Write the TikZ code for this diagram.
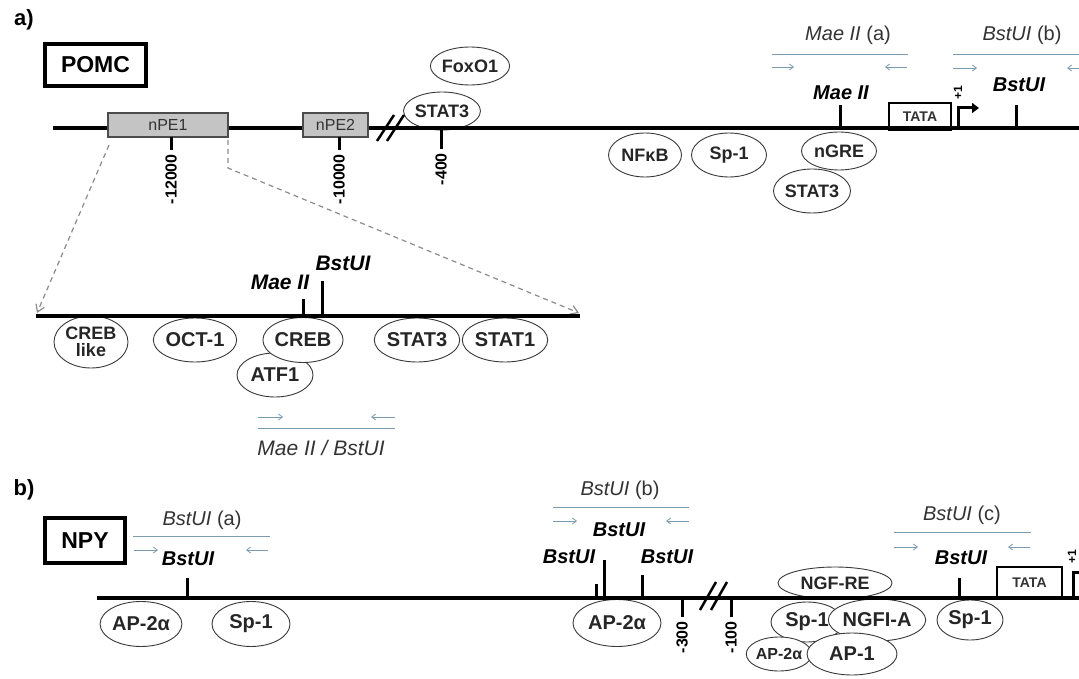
\documentclass[tikz,border=0pt]{standalone}
\usepackage{fontspec}
\setmainfont{Liberation Sans}
\usetikzlibrary{shapes.geometric,arrows.meta}
\definecolor{primercol}{HTML}{7A9AB0}
\definecolor{tfline}{HTML}{3A3A3A}
\definecolor{peboxfill}{HTML}{C4C4C4}
\definecolor{txtgray}{HTML}{333333}
\newcommand\fsz[1]{\fontsize{#1}{#1}\selectfont}
\begin{document}
\begin{tikzpicture}[x=1pt,y=-1pt,
  tf/.style={ellipse,draw=tfline,line width=0.9pt,fill=white,inner sep=0pt,
     minimum width=74pt,minimum height=42pt,font=\fsz{18}\bfseries,text=black!85},
  tfb/.style={tf,font=\fsz{20}\bfseries},
  gene/.style={line width=3.5pt,black},
  tickm/.style={line width=3pt,black},
  ticklab/.style={rotate=90,anchor=east,font=\fsz{16}\bfseries,inner sep=1pt},
  namebox/.style={draw,line width=3.5pt,inner sep=0pt,font=\fsz{23}\bfseries},
  pebox/.style={draw=black!70,line width=1.2pt,fill=peboxfill,inner sep=0pt,
     minimum height=24pt,font=\fsz{16},text=black!80},
  tata/.style={draw,line width=2.5pt,inner sep=0pt,font=\fsz{14}\bfseries,text=black!80},
  enz/.style={font=\fsz{20}\bfseries\itshape,inner sep=0pt},
  primlab/.style={font=\fsz{20},text=txtgray,inner sep=0pt},
  primer/.style={draw=primercol,line width=0.8pt},
  parr/.style={primer,-{Straight Barb[length=4pt,width=6pt]}},
  zoomline/.style={draw=black!45,line width=1.2pt,dash pattern=on 5pt off 4pt,
     -{Straight Barb[length=7pt,width=9pt]}},
  panel/.style={font=\fsz{22}\bfseries,inner sep=0pt},
  brk/.style={line width=2.5pt,black},
  tss/.style={line width=3pt,-{Triangle[length=7pt,width=10pt]}},
  plusone/.style={rotate=90,font=\fsz{12}\bfseries,inner sep=0pt}
]
\clip (0,0) rectangle (1079,679);
\fill[white] (0,0) rectangle (1079,679);

%%%%%%%%%%%%%%%%%%%% panel a
\node[panel] (pa) at (24,20) {a)};
\node[namebox,minimum width=101pt,minimum height=42pt] (pomc) at (95.5,65) {POMC};

% transcription factors (a)
\node[tf,minimum width=74pt,minimum height=38pt] (foxo) at (470,66) {FoxO1};
\node[tf,minimum width=73pt,minimum height=38pt] (stat3a) at (442,111) {STAT3};
\node[tf,minimum width=73pt,minimum height=44pt] (nfkb) at (645,155) {NFκB};
\node[tf,minimum width=75pt,minimum height=44pt] (sp1a) at (729,155) {Sp-1};
\node[tf,minimum width=77pt,minimum height=44pt] (stat3b) at (812,191) {STAT3};
\node[tf,minimum width=75pt,minimum height=38pt] (ngre) at (839,151) {nGRE};

% gene line
\coordinate (aL) at (53,128);
\coordinate (aR) at (1085,128);
\draw[gene] (aL) -- (aR);

\node[pebox,minimum width=120pt] (npe1) at (168,125) {nPE1};
\node[pebox,minimum width=65pt] (npe2) at (335.5,125) {nPE2};

% break
\coordinate (ba1) at (377,141); \coordinate (ba2) at (394,115);
\coordinate (ba3) at (387,141); \coordinate (ba4) at (404,115);
\draw[brk] (ba1) -- (ba2);
\draw[brk] (ba3) -- (ba4);

% ticks
\coordinate (t12a) at (171,137); \coordinate (t12b) at (171,150);
\draw[tickm] (t12a) -- (t12b);
\node[ticklab] (l12) at (171,153) {-12000};
\coordinate (t10a) at (339,137); \coordinate (t10b) at (339,150);
\draw[tickm] (t10a) -- (t10b);
\node[ticklab] (l10) at (339,153) {-10000};
\coordinate (t4a) at (441,130); \coordinate (t4b) at (441,149);
\draw[tickm] (t4a) -- (t4b);
\node[ticklab] (l4) at (441,152) {-400};

% Mae II site
\coordinate (maeta) at (840,105); \coordinate (maetb) at (840,128);
\draw[tickm] (maeta) -- (maetb);
\node[enz] (maeA) at (841,93) {Mae II};
% TATA
\node[tata,minimum width=62pt,minimum height=27pt] (tataA) at (920,116.5) {TATA};
% TSS
\coordinate (tssA0) at (958,130); \coordinate (tssA1) at (958,108); \coordinate (tssA2) at (979,108);
\draw[tss] (tssA0) -- (tssA1) -- (tssA2);
\node[plusone] (p1a) at (958,93) {+1};
% BstUI site
\coordinate (bsta) at (1016,105); \coordinate (bstb) at (1016,128);
\draw[tickm] (bsta) -- (bstb);
\node[enz] (bstA) at (1019,85) {BstUI};

% primers (a)
\node[primlab] (pMaeA) at (848,35) {\textit{Mae II} (a)};
\coordinate (pm1) at (772,54); \coordinate (pm2) at (908,54);
\draw[primer] (pm1) -- (pm2);
\coordinate (pm3) at (772,67); \coordinate (pm4) at (794,67);
\coordinate (pm5) at (907,67); \coordinate (pm6) at (885,67);
\draw[parr] (pm3) -- (pm4);
\draw[parr] (pm5) -- (pm6);

\node[primlab] (pBstB) at (1022,35) {\textit{BstUI} (b)};
\coordinate (pb1) at (953,54); \coordinate (pb2) at (1090,54);
\draw[primer] (pb1) -- (pb2);
\coordinate (pb3) at (953,68); \coordinate (pb4) at (977,68);
\coordinate (pb5) at (1090,68); \coordinate (pb6) at (1067,68);
\draw[parr] (pb3) -- (pb4);
\draw[parr] (pb5) -- (pb6);

%%%%%%%%%%%%%%%%%%%% inset
\coordinate (iL) at (36,316);
\coordinate (iR) at (580,316);
\coordinate (zl0) at (109,145);
\coordinate (zl1) at (37,313);
\coordinate (zr0) at (228,140);
\coordinate (zr1) at (228,168);
\coordinate (zr2) at (579,313);
\draw[zoomline] (zl0) -- (zl1);
\draw[zoomline] (zr0) -- (zr1) -- (zr2);

\node[tfb,minimum width=74pt,minimum height=52pt,align=center,font=\fsz{18}\bfseries] (creblike) at (91,342) {CREB\\[-1pt]like};
\node[tfb,minimum width=78pt,minimum height=44pt] (oct1) at (195,340) {OCT-1};
\node[tfb,minimum width=76pt,minimum height=44pt] (atf1) at (275,375) {ATF1};
\node[tfb,minimum width=77pt,minimum height=45pt] (creb) at (303,340) {CREB};
\node[tfb,minimum width=80pt,minimum height=44pt] (stat3i) at (417,340) {STAT3};
\node[tfb,minimum width=77pt,minimum height=44pt] (stat1i) at (505,340) {STAT1};

\draw[gene] (iL) -- (iR);
\coordinate (im1) at (303,299); \coordinate (im2) at (303,316);
\draw[tickm] (im1) -- (im2);
\coordinate (ib1) at (322,281); \coordinate (ib2) at (322,316);
\draw[tickm] (ib1) -- (ib2);
\node[enz,font=\fsz{21}\bfseries\itshape] (maeI) at (280,282) {Mae II};
\node[enz,font=\fsz{21}\bfseries\itshape] (bstI) at (343,263) {BstUI};

\coordinate (ip3) at (258,417); \coordinate (ip4) at (283,417);
\coordinate (ip5) at (395,417); \coordinate (ip6) at (371,417);
\draw[parr] (ip3) -- (ip4);
\draw[parr] (ip5) -- (ip6);
\coordinate (ip1) at (258,428); \coordinate (ip2) at (395,428);
\draw[primer] (ip1) -- (ip2);
\node[primlab,font=\fsz{21}] (pMB) at (321,448) {\textit{Mae II / BstUI}};

%%%%%%%%%%%%%%%%%%%% panel b
\node[panel] (pb) at (24,490) {b)};
\node[namebox,minimum width=80pt,minimum height=45pt] (npy) at (85,540.5) {NPY};

% factors
\node[tfb,minimum width=75pt,minimum height=45pt] (ap2a) at (141,624) {AP-2α};
\node[tfb,minimum width=78pt,minimum height=45pt] (sp1b) at (251,624) {Sp-1};
\node[tfb,minimum width=88pt,minimum height=47pt] (ap2b) at (617,623) {AP-2α};
\node[tfb,minimum width=72pt,minimum height=40pt] (sp1c) at (807,622) {Sp-1};
\node[tfb,minimum width=80pt,minimum height=42pt] (ngfia) at (877,620) {NGFI-A};
\node[tfb,minimum width=114pt,minimum height=32pt,font=\fsz{18}\bfseries] (ngfre) at (835,583) {NGF-RE};
\node[tfb,minimum width=62pt,minimum height=34pt,font=\fsz{16}\bfseries] (ap2c) at (779,654) {AP-2α};
\node[tfb,minimum width=90pt,minimum height=42pt] (ap1) at (852,654) {AP-1};
\node[tfb,minimum width=66pt,minimum height=40pt] (sp1d) at (970,620) {Sp-1};

\coordinate (bL) at (97,598);
\coordinate (bR) at (1085,598);
\draw[gene] (bL) -- (bR);

% BstUI (a)
\node[primlab] (pBa) at (202,520) {\textit{BstUI} (a)};
\coordinate (qa1) at (133,536); \coordinate (qa2) at (270,536);
\draw[primer] (qa1) -- (qa2);
\coordinate (qa3) at (134,550); \coordinate (qa4) at (158,550);
\coordinate (qa5) at (268,550); \coordinate (qa6) at (246,550);
\draw[parr] (qa3) -- (qa4);
\draw[parr] (qa5) -- (qa6);
\node[enz] (bsta1) at (188,559) {BstUI};
\coordinate (ta1) at (187,578); \coordinate (ta2) at (187,598);
\draw[tickm] (ta1) -- (ta2);

% BstUI (b)
\node[primlab] (pBb) at (620,490) {\textit{BstUI} (b)};
\coordinate (qb1) at (553,507); \coordinate (qb2) at (689,507);
\draw[primer] (qb1) -- (qb2);
\coordinate (qb3) at (553,521); \coordinate (qb4) at (577,521);
\coordinate (qb5) at (689,521); \coordinate (qb6) at (666,521);
\draw[parr] (qb3) -- (qb4);
\draw[parr] (qb5) -- (qb6);
\node[enz] (bstb1) at (619,530) {BstUI};
\node[enz] (bstb2) at (569,557) {BstUI};
\node[enz] (bstb3) at (667,557) {BstUI};
\coordinate (tb1) at (596,584); \coordinate (tb2) at (596,598);
\draw[tickm] (tb1) -- (tb2);
\coordinate (tb3) at (604,560); \coordinate (tb4) at (604,598);
\draw[tickm] (tb3) -- (tb4);
\coordinate (tb5) at (642,575); \coordinate (tb6) at (642,598);
\draw[tickm] (tb5) -- (tb6);

\coordinate (t3a) at (682,598); \coordinate (t3b) at (682,617);
\draw[tickm] (t3a) -- (t3b);
\node[ticklab,font=\fsz{16}\bfseries] (l3) at (682,620) {-300};
\coordinate (bb1) at (700,610); \coordinate (bb2) at (716,582);
\coordinate (bb3) at (711,610); \coordinate (bb4) at (727,582);
\draw[brk] (bb1) -- (bb2);
\draw[brk] (bb3) -- (bb4);
\coordinate (t1a) at (731,598); \coordinate (t1b) at (731,617);
\draw[tickm] (t1a) -- (t1b);
\node[ticklab,font=\fsz{16}\bfseries] (l1) at (731,620) {-100};

% BstUI (c)
\node[primlab] (pBc) at (962,515) {\textit{BstUI} (c)};
\coordinate (qc1) at (894,532); \coordinate (qc2) at (1031,532);
\draw[primer] (qc1) -- (qc2);
\coordinate (qc3) at (894,547); \coordinate (qc4) at (918,547);
\coordinate (qc5) at (1030,547); \coordinate (qc6) at (1008,547);
\draw[parr] (qc3) -- (qc4);
\draw[parr] (qc5) -- (qc6);
\node[enz] (bstc1) at (961,558) {BstUI};
\coordinate (tc1) at (959,578); \coordinate (tc2) at (959,598);
\draw[tickm] (tc1) -- (tc2);

\node[tata,minimum width=65pt,minimum height=31pt] (tataB) at (1029.5,582.5) {TATA};
\coordinate (tssB0) at (1073,598); \coordinate (tssB1) at (1073,572); \coordinate (tssB2) at (1095,572);
\draw[tss] (tssB0) -- (tssB1) -- (tssB2);
\node[plusone] (p1b) at (1072,557) {+1};
\end{tikzpicture}
\end{document}
